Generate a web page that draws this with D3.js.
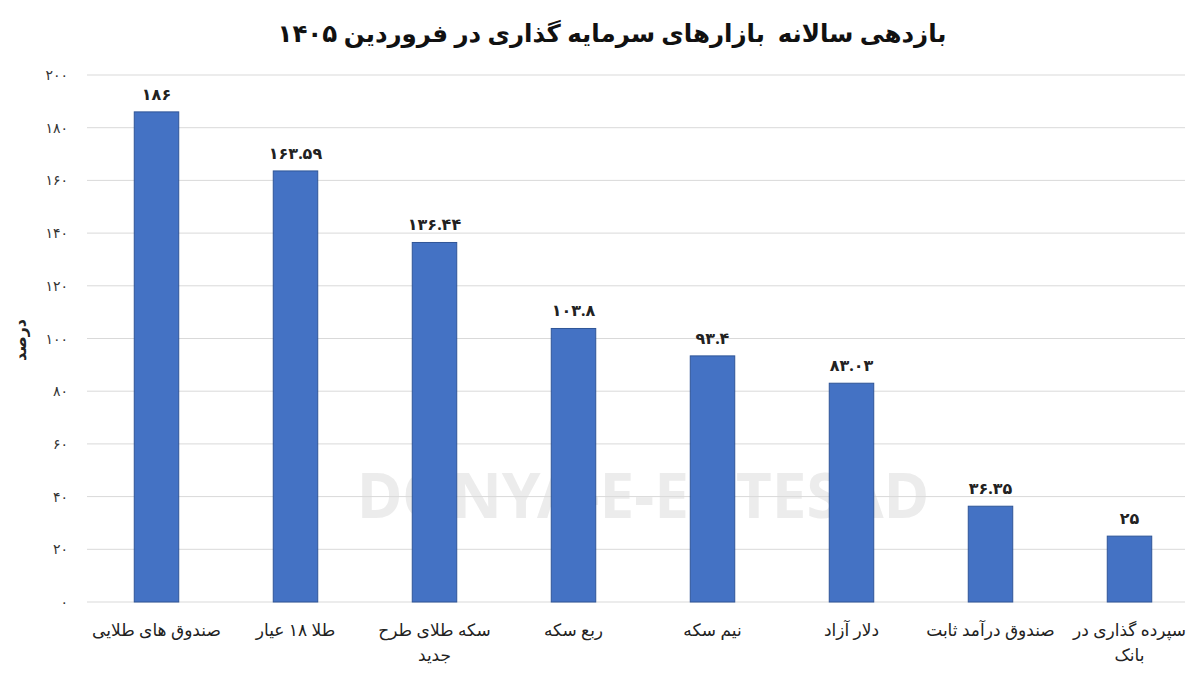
<!DOCTYPE html>
<html><head><meta charset="utf-8">
<script src="https://cdn.jsdelivr.net/npm/d3@7"></script>
<style>body{margin:0;background:#fff}text{font-family:"Noto Sans","DejaVu Sans",sans-serif}</style>
</head><body><svg id="c" width="1200" height="676"></svg>
<script>
const categories = [["صندوق های طلایی"],["طلا ۱۸ عیار"],["سکه طلای طرح","جدید"],["ربع سکه"],["نیم سکه"],["دلار آزاد"],["صندوق درآمد ثابت"],["سپرده گذاری در","بانک"]];
const values = [186,163.59,136.44,103.8,93.4,83.03,36.35,25];
const valueLabels = ["۱۸۶","۱۶۳.۵۹","۱۳۶.۴۴","۱۰۳.۸","۹۳.۴","۸۳.۰۳","۳۶.۳۵","۲۵"];
const yTicks = [0,20,40,60,80,100,120,140,160,180,200];
const fa = n => String(n).replace(/\d/g, d => "۰۱۲۳۴۵۶۷۸۹"[d]);

const svg = d3.select("#c");
const x = d3.scaleBand().domain(d3.range(values.length)).range([87,1199]).paddingInner(0.68).paddingOuter(0.34);
const y = d3.scaleLinear().domain([0,200]).range([602,75]);

svg.append("text").attr("x",612).attr("y",42).attr("text-anchor","middle")
  .attr("font-size",24.5).attr("font-weight","bold").attr("fill","#111").style("white-space","pre")
  .text("بازدهی سالانه\u00A0\u00A0بازارهای سرمایه گذاری در فروردین ۱۴۰۵");

svg.append("text").attr("x",643).attr("y",518).attr("text-anchor","middle")
  .attr("font-size",62).attr("font-weight","bold").attr("fill","#ececec").attr("font-family","Liberation Sans")
  .text("DONYA-E-EQTESAD");

svg.selectAll(".g").data(yTicks).enter().append("line")
  .attr("x1",87).attr("x2",1185).attr("y1",d=>y(d)).attr("y2",d=>y(d))
  .attr("stroke","#d9d9d9").attr("stroke-width",1);
svg.selectAll(".yt").data(yTicks).enter().append("text")
  .attr("x",68).attr("y",d=>y(d)+5).attr("text-anchor","end").attr("font-size",14).attr("fill","#333")
  .text(d=>fa(d));

svg.append("text").attr("transform","translate(26,340) rotate(-90)").attr("text-anchor","middle")
  .attr("font-size",16).attr("font-weight","bold").attr("fill","#222").text("درصد");

svg.selectAll(".b").data(values).enter().append("rect")
  .attr("x",(d,i)=>x(i)).attr("width",x.bandwidth()).attr("y",d=>y(d)).attr("height",d=>y(0)-y(d))
  .attr("fill","#4472C4").attr("stroke","#2f5597").attr("stroke-width",1);

svg.selectAll(".v").data(values).enter().append("text")
  .attr("x",(d,i)=>x(i)+x.bandwidth()/2).attr("y",d=>y(d)-12).attr("text-anchor","middle")
  .attr("font-size",16).attr("font-weight","bold").attr("fill","#222").text((d,i)=>valueLabels[i]);

categories.forEach((lines,i)=>{
  lines.forEach((t,j)=>{
    svg.append("text").attr("x",x(i)+x.bandwidth()/2).attr("y",636+j*25).attr("text-anchor","middle")
      .attr("font-size",17).attr("fill","#222").attr("direction","rtl").style("unicode-bidi","plaintext").text(t);
  });
});
</script></body></html>
